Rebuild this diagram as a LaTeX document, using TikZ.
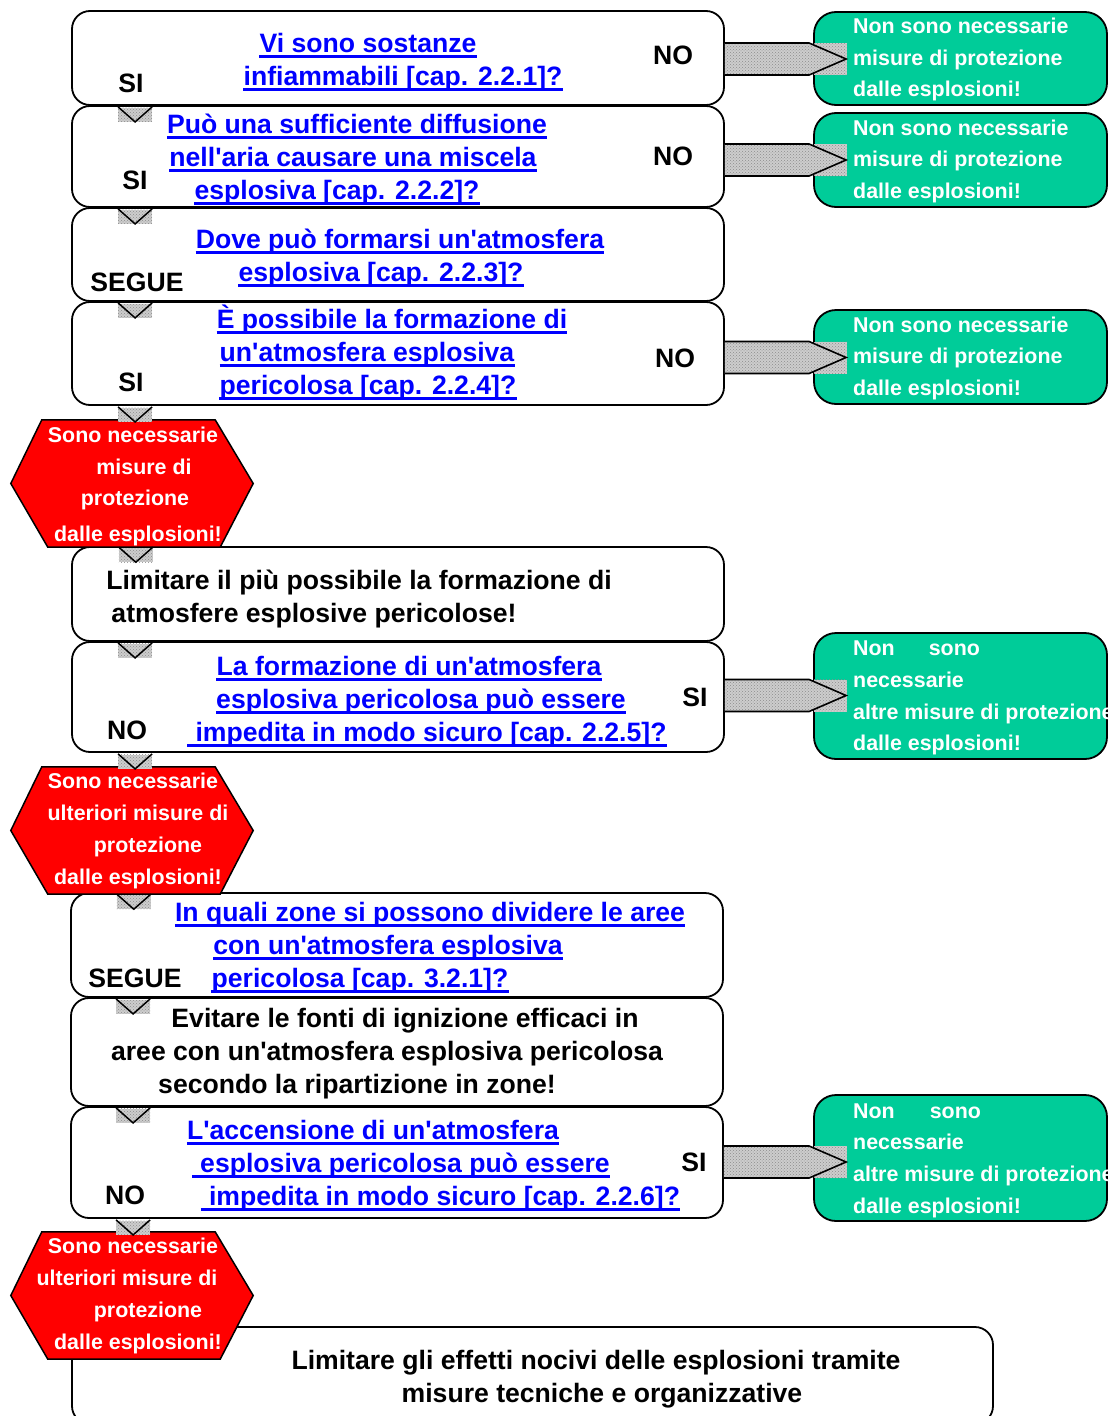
\documentclass[tikz,border=0pt]{standalone}
\usepackage{fontspec}
\setmainfont{Liberation Sans}
\usetikzlibrary{calc,patterns}
\definecolor{linkblue}{RGB}{0,0,255}
\definecolor{okgreen}{RGB}{0,204,153}
\definecolor{stopred}{RGB}{255,0,0}
\definecolor{arrowgray}{RGB}{205,205,205}
\newcommand\ap{\textquotesingle}
\newcommand\qfont{\fontsize{26.6}{32}\selectfont\bfseries}
\newcommand\sfont{\fontsize{21.4}{31}\selectfont\bfseries}
\tikzset{graytex/.style={fill=arrowgray, postaction={pattern=crosshatch dots, pattern color=black!45}}}
\newcommand\bigarrow[3]{%
  \path[graytex] let \p1=(#1.east), \p2=(#2.west) in
    (\x1,\y1+#3+16pt) -- (\x2-4pt,\y1+#3+16pt) -- (\x2+33pt,\y1+#3) -- (\x2-4pt,\y1+#3-16pt) -- (\x1,\y1+#3-16pt) -- cycle;
  \path[graytex] let \p1=(#1.east), \p2=(#2.west) in
    (\x2+1pt,\y1+#3+16pt) rectangle (\x2+34pt,\y1+#3-16pt);
  \draw[line width=1.6pt, line join=miter] let \p1=(#1.east), \p2=(#2.west) in
    (\x1,\y1+#3+16pt) -- (\x2-4pt,\y1+#3+16pt) -- (\x2+33pt,\y1+#3) -- (\x2-4pt,\y1+#3-16pt) -- (\x1,\y1+#3-16pt);
}
\newcommand\chev[1]{%
  \path[graytex] ($(#1)+(-17,1)$) rectangle ($(#1)+(17,15)$);
  \draw[line width=1.5pt] ($(#1)+(-17,0)$) -- ($(#1)+(0,15)$) -- ($(#1)+(17,0)$);
}
\newcommand\hexa[1]{%
  \filldraw[fill=stopred, draw=black, line width=1.5pt, line join=miter]
    (#1.west) -- ($(#1.north west)+(31,0)$) -- ($(#1.north east)+(-38,0)$) -- (#1.east)
    -- ($(#1.south east)+(-33,0)$) -- ($(#1.south west)+(37,0)$) -- cycle;
}
\begin{document}
\begin{tikzpicture}[x=1pt,y=-1pt,
  mbox/.style={rectangle, draw=black, fill=white, line width=1.8pt, rounded corners=18pt, inner sep=0pt},
  gbox/.style={rectangle, draw=black, fill=okgreen, line width=1.8pt, rounded corners=22pt, inner sep=0pt, minimum width=293},
  hframe/.style={rectangle, inner sep=0pt, minimum width=242, minimum height=127},
  lbl/.style={font=\qfont, text=black, inner sep=0pt, anchor=base},
  lnk/.style={font=\qfont, text=linkblue, inner sep=0pt, anchor=base,
    append after command={([yshift=-4.5pt]\tikzlastnode.base west) edge[draw=linkblue, line width=2.2pt] ([yshift=-4.5pt]\tikzlastnode.base east)}},
  wtx/.style={font=\sfont, text=white, inner sep=0pt, anchor=base west},
  htx/.style={font=\sfont, text=white, inner sep=0pt, anchor=base}]
\useasboundingbox (0,0) rectangle (1111,1416);

% main boxes
\node[mbox, minimum width=652, minimum height=94]  (b1) at (398,58) {};
\node[mbox, minimum width=652, minimum height=101] (b2) at (398,156.5) {};
\node[mbox, minimum width=652, minimum height=93]  (b3) at (398,254.5) {};
\node[mbox, minimum width=652, minimum height=103] (b4) at (398,353.5) {};
\node[mbox, minimum width=652, minimum height=94]  (b5) at (398,594) {};
\node[mbox, minimum width=652, minimum height=110] (b6) at (398,697) {};
\node[mbox, minimum width=652, minimum height=104] (b7) at (397,945) {};
\node[mbox, minimum width=652, minimum height=108] (b8) at (397,1052) {};
\node[mbox, minimum width=652, minimum height=111] (b9) at (397,1162.5) {};
\node[mbox, minimum width=921, minimum height=97]  (bb) at (532.5,1375.5) {};

% green boxes
\node[gbox, minimum height=93]  (g1) at (960.5,58.5) {};
\node[gbox, minimum height=94]  (g2) at (960.5,160) {};
\node[gbox, minimum height=94]  (g3) at (960.5,357) {};
\node[gbox, minimum height=126] (g4) at (960.5,696) {};
\node[gbox, minimum height=126] (g5) at (960.5,1158) {};

% big arrows
\bigarrow{b1}{g1}{-1pt}
\bigarrow{b2}{g2}{-3.5pt}
\bigarrow{b4}{g3}{-4pt}
\bigarrow{b6}{g4}{1.5pt}
\bigarrow{b9}{g5}{0.5pt}

% hexagons
\node[hframe] (h1) at (132,483.5) {};
\node[hframe] (h2) at (132,830.5) {};
\node[hframe] (h3) at (132,1295.5) {};
\hexa{h1}
\hexa{h2}
\hexa{h3}

% down chevrons
\coordinate (k1) at ($(b1.south west)+(64,1)$);
\coordinate (k2) at ($(b2.south west)+(64,1)$);
\coordinate (k3) at ($(b3.south west)+(64,1)$);
\coordinate (k4) at ($(b4.south west)+(64,1)$);
\coordinate (k5) at ($(h1.south west)+(125,0)$);
\coordinate (k6) at ($(b5.south west)+(64,1)$);
\coordinate (k7) at ($(b6.south west)+(64,1)$);
\coordinate (k8) at ($(h2.south west)+(123,0)$);
\coordinate (k9) at ($(b7.south west)+(63,1)$);
\coordinate (k10) at ($(b8.south west)+(63,1)$);
\coordinate (k11) at ($(b9.south west)+(63,1)$);
\chev{k1}\chev{k2}\chev{k3}\chev{k4}\chev{k5}\chev{k6}
\chev{k7}\chev{k8}\chev{k9}\chev{k10}\chev{k11}

% box 1
\node[lnk] (t1a) at (368,52) {Vi sono sostanze};
\node[lnk] (t1b) at (403,85) {infiammabili [cap. 2.2.1]?};
\node[lbl] (t1s) at (131,92) {SI};
\node[lbl] (t1n) at (673,64) {NO};
% box 2
\node[lnk] (t2a) at (357,133) {Può una sufficiente diffusione};
\node[lnk] (t2b) at (353,166) {nell\ap aria causare una miscela};
\node[lnk] (t2c) at (337,199) {esplosiva [cap. 2.2.2]?};
\node[lbl] (t2s) at (135,189) {SI};
\node[lbl] (t2n) at (673,165) {NO};
% box 3
\node[lnk] (t3a) at (400,248) {Dove può formarsi un\ap atmosfera};
\node[lnk] (t3b) at (381,281) {esplosiva [cap. 2.2.3]?};
\node[lbl] (t3s) at (137,291) {SEGUE};
% box 4
\node[lnk] (t4a) at (392,328) {È possibile la formazione di};
\node[lnk] (t4b) at (367,361) {un\ap atmosfera esplosiva};
\node[lnk] (t4c) at (368,394) {pericolosa [cap. 2.2.4]?};
\node[lbl] (t4s) at (131,391) {SI};
\node[lbl] (t4n) at (675,367) {NO};
% box 5
\node[lbl] (t5a) at (359,589) {Limitare il più possibile la formazione di};
\node[lbl] (t5b) at (314,622) {atmosfere esplosive pericolose!};
% box 6
\node[lnk] (t6a) at (409,675) {La formazione di un\ap atmosfera};
\node[lnk] (t6b) at (421,708) {esplosiva pericolosa può essere};
\node[lnk] (t6c) at (427,741) {\hspace{8pt}impedita in modo sicuro [cap. 2.2.5]?};
\node[lbl] (t6n) at (127,739) {NO};
\node[lbl] (t6s) at (695,706) {SI};
% box 7
\node[lnk] (t7a) at (430,921) {In quali zone si possono dividere le aree};
\node[lnk] (t7b) at (388,954) {con un\ap atmosfera esplosiva};
\node[lnk] (t7c) at (360,987) {pericolosa [cap. 3.2.1]?};
\node[lbl] (t7s) at (135,987) {SEGUE};
% box 8
\node[lbl] (t8a) at (405,1027) {Evitare le fonti di ignizione efficaci in};
\node[lbl] (t8b) at (387,1060) {aree con un\ap atmosfera esplosiva pericolosa};
\node[lbl] (t8c) at (357,1093) {secondo la ripartizione in zone!};
% box 9
\node[lnk] (t9a) at (373,1139) {L\ap accensione di un\ap atmosfera};
\node[lnk] (t9b) at (401,1172) {\hspace{8pt}esplosiva pericolosa può essere};
\node[lnk] (t9c) at (440.5,1205) {\hspace{8pt}impedita in modo sicuro [cap. 2.2.6]?};
\node[lbl] (t9n) at (125,1204) {NO};
\node[lbl] (t9s) at (694,1171) {SI};
% bottom box
\node[lbl] (tba) at (596,1369) {Limitare gli effetti nocivi delle esplosioni tramite};
\node[lbl] (tbb) at (602,1402) {misure tecniche e organizzative};

% hexagon texts
\node[htx] (h1a) at (133,442) {Sono necessarie};
\node[htx] (h1b) at (144,474) {misure di};
\node[htx] (h1c) at (135,505) {protezione};
\node[htx] (h1d) at (138,541) {dalle esplosioni!};
\node[htx] (h2a) at (133,788) {Sono necessarie};
\node[htx] (h2b) at (138,820) {ulteriori misure di};
\node[htx] (h2c) at (148,852) {protezione};
\node[htx] (h2d) at (138,884) {dalle esplosioni!};
\node[htx] (h3a) at (133,1253) {Sono necessarie};
\node[htx] (h3b) at (127,1285) {ulteriori misure di};
\node[htx] (h3c) at (148,1317) {protezione};
\node[htx] (h3d) at (138,1349) {dalle esplosioni!};

% green texts
\node[wtx] (g1a) at (853,33) {Non sono necessarie};
\node[wtx] (g1b) at (853,65) {misure di protezione};
\node[wtx] (g1c) at (853,96) {dalle esplosioni!};
\node[wtx] (g2a) at (853,135) {Non sono necessarie};
\node[wtx] (g2b) at (853,166) {misure di protezione};
\node[wtx] (g2c) at (853,198) {dalle esplosioni!};
\node[wtx] (g3a) at (853,332) {Non sono necessarie};
\node[wtx] (g3b) at (853,363) {misure di protezione};
\node[wtx] (g3c) at (853,395) {dalle esplosioni!};
\node[wtx] (g4a) at (853,655) {Non\hspace{34pt}sono};
\node[wtx] (g4b) at (853,687) {necessarie};
\node[wtx] (g4c) at (853,719) {altre misure di protezione};
\node[wtx] (g4d) at (853,750) {dalle esplosioni!};
\node[wtx] (g5a) at (853,1118) {Non\hspace{35pt}sono};
\node[wtx] (g5b) at (853,1149) {necessarie};
\node[wtx] (g5c) at (853,1181) {altre misure di protezione};
\node[wtx] (g5d) at (853,1213) {dalle esplosioni!};
\end{tikzpicture}
\end{document}
